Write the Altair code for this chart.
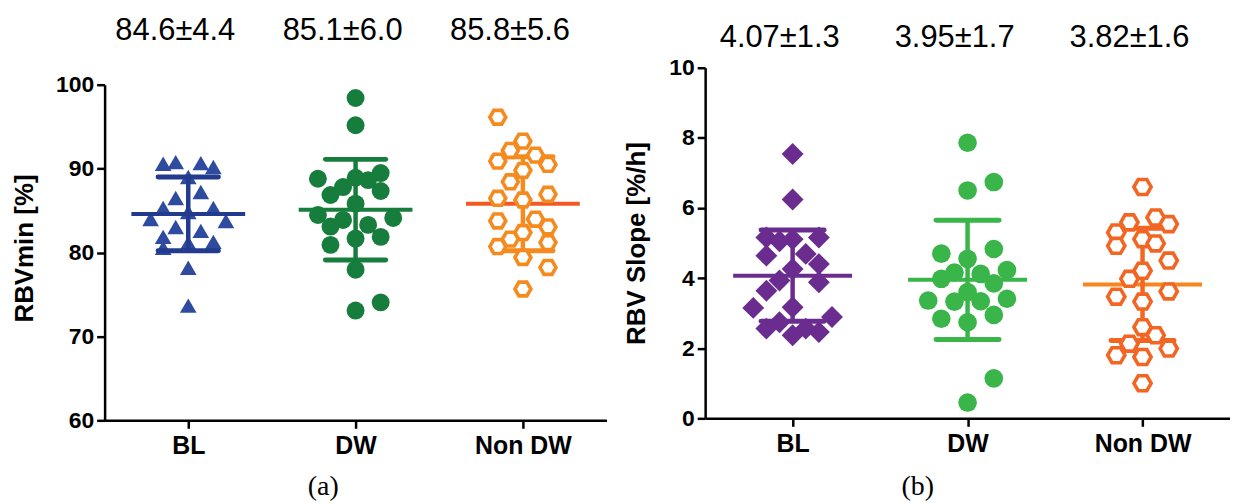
import altair as alt
import pandas as pd

GROUPS = ["BL", "DW", "Non DW"]
STEP = 0.075  # width of one beeswarm slot, in category units

# ---------------- Panel (a): RBVmin [%] ----------------
a_bl_vals = [90.57, 90.77, 90.65, 90.18, 88.99, 86.50, 87.21, 85.31, 85.31, 84.00,
             84.83, 83.76, 83.05, 82.58, 81.86, 81.15, 81.27, 80.56, 78.18, 73.67]
a_bl_slot = [-2, -1, 1, 2, 0, -1, 1, -2, 2, -3, 0, 3, -1, 1, -2, 0, 2, -2, 0, 0]
a_dw_vals = [98.41, 95.17, 88.79, 88.91, 89.47, 88.63, 87.80, 86.85, 87.33, 85.82, 84.48,
             83.88, 84.12, 83.09, 83.29, 81.66, 81.86, 80.91, 77.95, 74.06, 73.08]
a_dw_slot = [0, 0, -3, 0, 2, 1, -1, -2, 2, 0, -3, -1, 3, -2, 1, 0, 2, -2, 0, 2, 0]
a_ndw_vals = [96.12, 93.27, 92.16, 90.89, 91.60, 90.50, 89.79, 88.43, 86.46, 86.94, 86.26,
              83.76, 83.97, 83.05, 82.38, 81.59, 81.19, 80.71, 79.41, 78.22, 75.65]
a_ndw_slot = [-2, 0, -1, -2, 1, 2, 0, -1, -2, 2, 0, -2, 1, 2, 0, -1, 2, -2, 0, 2, 0]
a_mean = [84.6, 85.1, 85.8]
a_sd = [4.4, 6.0, 5.6]
a_labels = ["84.6±4.4", "85.1±6.0", "85.8±5.6"]

# ---------------- Panel (b): RBV Slope [%/h] ----------------
b_bl_vals = [5.16, 5.05, 5.11, 5.16, 4.64, 4.69, 4.40, 4.26, 3.93, 3.88, 3.64,
             3.15, 3.17, 2.89, 2.56, 2.74, 2.37, 2.56, 2.46, 7.54, 6.24]
b_bl_slot = [-2, -1, 0, 2, -2, 1, 2, 0, -1, 2, -2, -3, 0, 3, -2, -1, 0, 1, 2, 0, 0]
b_dw_vals = [7.86, 6.50, 6.74, 4.70, 4.83, 4.55, 4.16, 4.12, 4.23, 3.98, 3.85,
             3.60, 3.36, 3.33, 3.34, 3.41, 2.84, 2.95, 2.74, 1.14, 0.45]
b_dw_slot = [0, 0, 2, -2, 2, 0, -1, 1, 3, -2, 2, 0, -3, -1, 1, 3, -2, 2, 0, 2, 0]
b_ndw_vals = [6.60, 5.59, 5.73, 5.54, 5.30, 4.92, 5.11, 4.99, 4.50, 4.21, 3.98,
              3.47, 3.62, 3.33, 2.60, 2.37, 2.13, 1.99, 1.80, 1.75, 1.00]
b_ndw_slot = [0, -1, 1, 2, -2, -2, 0, 1, 2, 0, -1, -2, 2, 0, 0, 1, -1, 2, -2, 0, 0]
b_mean = [4.07, 3.95, 3.82]
b_sd = [1.3, 1.7, 1.6]
b_labels = ["4.07±1.3", "3.95±1.7", "3.82±1.6"]

HEX = "M-1,0L-0.5,-0.866L0.5,-0.866L1,0L0.5,0.866L-0.5,0.866Z"
SANS = "Liberation Sans"
SERIF = "Liberation Serif"
LABEL_EXPR = f"{GROUPS}[datum.value]"

a_styles = [
    dict(shape="triangle-up", size=280, filled=True, color="#2E4B9F", mean="#223B8E", sd="#223B8E", top=False),
    dict(shape="circle", size=324, filled=True, color="#177D3D", mean="#177D3D", sd="#177D3D", top=False),
    dict(shape=HEX, size=256, filled=False, color="#F58A1F", mean="#F15A24", sd="#F58A1F", top=True),
]
b_styles = [
    dict(shape="diamond", size=484, filled=True, color="#6A2C8F", mean="#6A2C8F", sd="#6A2C8F", top=False),
    dict(shape="circle", size=350, filled=True, color="#39B54A", mean="#39B54A", sd="#39B54A", top=False),
    dict(shape=HEX, size=300, filled=False, color="#F26522", mean="#F7861F", sd="#F26522", top=True),
]


def build_panel(vals, slots, means, sds, labels, styles, ydom, yticks, yrange, width, height,
                ytitle, ytx, yty, xtitle, xtx, xty, ann_y):
    rows = []
    for i, g in enumerate(GROUPS):
        for v, s in zip(vals[i], slots[i]):
            rows.append({"group": g, "idx": i, "slot": s, "value": v})
    pts = pd.DataFrame(rows)
    pts["x"] = pts["idx"] + pts["slot"] * STEP

    summ = pd.DataFrame({"group": GROUPS, "idx": [0, 1, 2], "mean": means, "sd": sds, "label": labels})
    summ["lo"] = summ["mean"] - summ["sd"]
    summ["hi"] = summ["mean"] + summ["sd"]
    summ["ml"] = summ["idx"] - 0.34
    summ["mr"] = summ["idx"] + 0.34
    summ["cl"] = summ["idx"] - 0.18
    summ["cr"] = summ["idx"] + 0.18

    xaxis = alt.Axis(values=[0, 1, 2], labelExpr=LABEL_EXPR, title=xtitle, titleX=xtx, titleY=xty,
                     titleFont=SERIF, titleFontSize=28, titleFontWeight="normal",
                     titleBaseline="middle", titleAlign="center", labelPadding=5, labelFontSize=25)
    yaxis = alt.Axis(values=yticks, title=ytitle, titleX=ytx, titleY=yty, titleAngle=-90,
                     titleFont=SANS, titleFontSize=26, titleFontWeight="bold",
                     titleBaseline="middle", titleAlign="center", labelPadding=3, labelFontSize=23)

    def X(f):
        return alt.X(f"{f}:Q", scale=alt.Scale(domain=[-0.5, 2.5], nice=False, zero=False), axis=xaxis)

    def Y(f):
        return alt.Y(f"{f}:Q", scale=alt.Scale(domain=ydom, range=yrange, nice=False, zero=False), axis=yaxis)

    layers = []
    for i, g in enumerate(GROUPS):
        st = styles[i]
        p = pts[pts["group"] == g]
        sm = summ[summ["group"] == g]
        if st["filled"]:
            pm = alt.Chart(p).mark_point(shape=st["shape"], size=st["size"], filled=True,
                                         color=st["color"], opacity=1, strokeWidth=0)
        else:
            pm = alt.Chart(p).mark_point(shape=st["shape"], size=st["size"], fill="white",
                                         stroke=st["color"], strokeWidth=3.6, opacity=1, fillOpacity=1)
        pl = pm.encode(x=X("x"), y=Y("value"))
        lines = [
            alt.Chart(sm).mark_rule(color=st["mean"], strokeWidth=4).encode(x=X("ml"), x2="mr", y=Y("mean")),
            alt.Chart(sm).mark_rule(color=st["sd"], strokeWidth=4.5).encode(x=X("idx"), y=Y("lo"), y2="hi"),
            alt.Chart(sm).mark_rule(color=st["sd"], strokeWidth=5, strokeCap="round").encode(x=X("cl"), x2="cr", y=Y("hi")),
            alt.Chart(sm).mark_rule(color=st["sd"], strokeWidth=5, strokeCap="round").encode(x=X("cl"), x2="cr", y=Y("lo")),
        ]
        if st["top"]:
            layers += lines + [pl]
        else:
            layers += [pl] + lines

    ann = alt.Chart(summ).mark_text(font=SANS, fontSize=31, color="black", dx=-13, baseline="middle").encode(
        x=X("idx"), y=alt.value(ann_y), text="label:N")
    layers.append(ann)
    return alt.layer(*layers).properties(width=width, height=height)


panel_a = build_panel(
    [a_bl_vals, a_dw_vals, a_ndw_vals], [a_bl_slot, a_dw_slot, a_ndw_slot],
    a_mean, a_sd, a_labels, a_styles,
    ydom=[60, 100], yticks=[60, 70, 80, 90, 100], yrange=[354, 17], width=504, height=354,
    ytitle="RBVmin [%]", ytx=-80, yty=181, xtitle="(a)", xtx=219, xty=66, ann_y=-37)

panel_b = build_panel(
    [b_bl_vals, b_dw_vals, b_ndw_vals], [b_bl_slot, b_dw_slot, b_ndw_slot],
    b_mean, b_sd, b_labels, b_styles,
    ydom=[0, 10], yticks=[0, 2, 4, 6, 8, 10], yrange=[352, 0], width=527, height=352,
    ytitle="RBV Slope [%/h]", ytx=-69, yty=176, xtitle="(b)", xtx=213, xty=68, ann_y=-30)

chart = alt.hconcat(panel_a, panel_b, spacing=17).properties(
    padding={"left": 4, "top": 6, "right": 0, "bottom": 0},
    background="white"
).configure_view(stroke=None).configure_axis(
    domainColor="black", domainWidth=2.5, tickColor="black", tickWidth=2.5, tickSize=8,
    labelFont=SANS, labelFontWeight="bold", labelColor="black",
    titleColor="black", grid=False
)

chart.save("out.html", embed_options={"renderer": "svg", "actions": False})
